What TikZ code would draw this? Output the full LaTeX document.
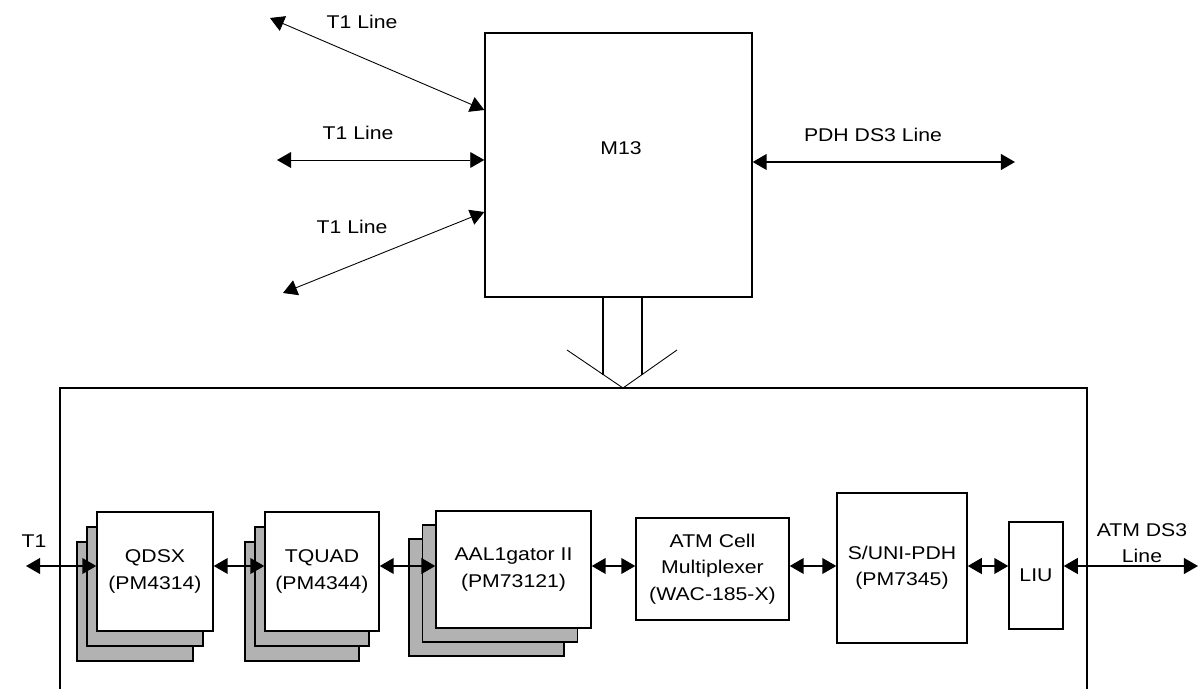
\documentclass[tikz,border=0pt]{standalone}
\usepackage{fontspec}
\setmainfont{Liberation Sans}[FakeStretch=1.15]
\usepackage{tikz}
\usetikzlibrary{arrows.meta,positioning}

\begin{document}
\begin{tikzpicture}[
    x=0.02cm, y=-0.02cm,
    font=\fontsize{10.5}{15}\selectfont,
    chip/.style={draw, line width=0.8pt, fill=white, align=center, inner sep=0pt},
    shade/.style={draw, line width=0.8pt, fill=black!30, inner sep=0pt},
    link/.style={{Triangle[length=8pt,width=9pt]}-{Triangle[length=8pt,width=9pt]}, line width=0.9pt},
    thinlink/.style={{Triangle[length=8pt,width=9pt]}-{Triangle[length=8pt,width=9pt]}, line width=0.5pt}
]
    \useasboundingbox (0,0) rectangle (1198,689);

    % multiplexer on top
    \node[chip, minimum width=5.34cm, minimum height=5.28cm] (m13) at (618.5,165) {};
    \node (m13txt) at (621,148) {M13};

    \coordinate (t1a) at (270,18);
    \coordinate (t1b) at (277,160);
    \coordinate (t1c) at (283,293);
    \coordinate (pdh) at (1015,162);
    \draw[thinlink] (t1a) -- (m13.west |- 0,110);
    \draw[thinlink] (t1b) -- (m13.west |- 0,160);
    \draw[thinlink] (t1c) -- (m13.west |- 0,212);
    \draw[link] (m13.east |- 0,162) -- (pdh);
    \node (lbla) at (362,22) {T1 Line};
    \node (lblb) at (358,133) {T1 Line};
    \node (lblc) at (352,227) {T1 Line};
    \node (lblpdh) at (873,135) {PDH DS3 Line};

    % hollow arrow down to the board
    \coordinate (bus) at (623,388);
    \draw[line width=0.8pt] (m13.south -| 603,0) -- (603,375);
    \draw[line width=0.8pt] (m13.south -| 642,0) -- (642,375);
    \draw[line width=0.5pt] (567,350) -- (bus) -- (677,350);

    % board outline, open at the bottom
    \draw[line width=0.8pt] (60,689) -- (60,388) -- (1087,388) -- (1087,689);

    % stacked devices
    \foreach \k in {2,1} {
        \node[shade, minimum width=2.32cm, minimum height=2.38cm] (qdsx-s\k) at (155-10*\k,571.5+15*\k) {};
        \node[shade, minimum width=2.28cm, minimum height=2.38cm] (tquad-s\k) at (322-10*\k,571.5+15*\k) {};
        \node[shade, minimum width=3.10cm, minimum height=2.34cm] (aal-s\k) at (513.5-13.5*\k,569.5+14*\k) {};
    }
    \node[chip, minimum width=2.32cm, minimum height=2.38cm] (qdsx) at (155,571.5) {QDSX\\(PM4314)};
    \node[chip, minimum width=2.28cm, minimum height=2.38cm] (tquad) at (322,571.5) {TQUAD\\(PM4344)};
    \node[chip, minimum width=3.10cm, minimum height=2.34cm] (aal) at (513.5,569.5) {AAL1gator II\\(PM73121)};
    \node[chip, minimum width=3.06cm, minimum height=2.04cm] (atm) at (712.5,569) {ATM Cell\\Multiplexer\\(WAC-185-X)};
    \node[chip, minimum width=2.60cm, minimum height=3.00cm] (suni) at (902,568) {S/UNI-PDH\\(PM7345)};
    \node[chip, minimum width=1.08cm, minimum height=2.14cm] (liu) at (1036,575.5) {LIU};

    % data path
    \coordinate (row) at (0,566);
    \coordinate (t1in) at (26,566);
    \coordinate (ds3out) at (1198,566);
    \draw[link] (t1in) -- (qdsx.west |- row);
    \draw[link] (qdsx.east |- row) -- (tquad.west |- row);
    \draw[link] (tquad.east |- row) -- (aal.west |- row);
    \draw[link] (aal.east |- row) -- (atm.west |- row);
    \draw[link] (atm.east |- row) -- (suni.west |- row);
    \draw[link] (suni.east |- row) -- (liu.west |- row);
    \draw[link] (liu.east |- row) -- (ds3out);
    \node (lblt1) at (34,541) {T1};
    \node[align=center] (lblds3) at (1142,543) {ATM DS3\\Line};
\end{tikzpicture}
\end{document}
